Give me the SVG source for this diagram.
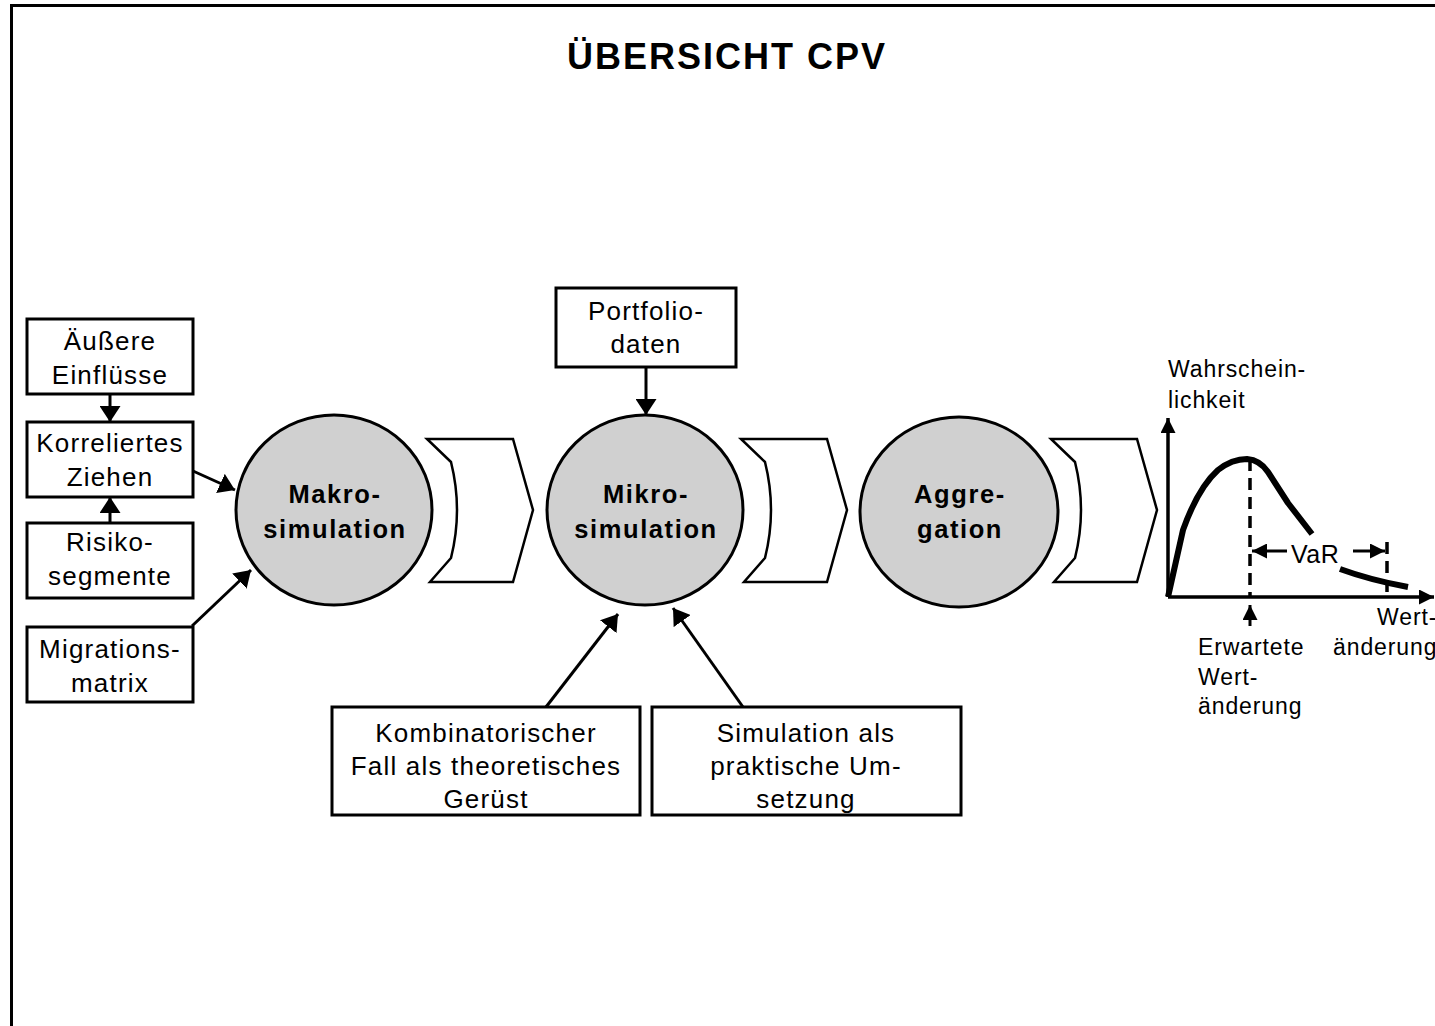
<svg xmlns="http://www.w3.org/2000/svg" width="1435" height="1026" viewBox="0 0 1435 1026">
<style>
.box{fill:#fff;stroke:#000;stroke-width:3}
.circ{fill:#d0d0d0;stroke:#000;stroke-width:3}
.chev{fill:#fff;stroke:#000;stroke-width:2.5;stroke-linejoin:miter}
.t{font-family:"Liberation Sans",Arial,sans-serif;font-size:26px;letter-spacing:1.2px;fill:#000;text-anchor:middle}
.b{font-family:"Liberation Sans",Arial,sans-serif;font-size:25.5px;font-weight:bold;letter-spacing:1.6px;fill:#000;text-anchor:middle}
.s{font-family:"Liberation Sans",Arial,sans-serif;font-size:23px;letter-spacing:0.9px;fill:#000}
.v{font-family:"Liberation Sans",Arial,sans-serif;font-size:25px;letter-spacing:0.5px;fill:#000}
.title{font-family:"Liberation Sans",Arial,sans-serif;font-size:36px;font-weight:bold;letter-spacing:2px;fill:#000;text-anchor:middle}
.con{stroke:#000;stroke-width:3;fill:none}
.ax{stroke:#000;stroke-width:3.5;fill:none}
.dash{stroke:#000;stroke-width:3.5;stroke-dasharray:12 7;fill:none}
.curve{stroke:#000;stroke-width:6;fill:none;stroke-linejoin:round}
</style>
<defs>
<marker id="ah" markerUnits="userSpaceOnUse" markerWidth="16" markerHeight="21" refX="16" refY="10.5" orient="auto">
<path d="M0,0 L16,10.5 L0,21 Z" fill="#000"/>
</marker>
<marker id="ahs" markerUnits="userSpaceOnUse" markerWidth="15" markerHeight="15" refX="15" refY="7.5" orient="auto">
<path d="M0,0 L15,7.5 L0,15 Z" fill="#000"/>
</marker>
</defs>
<rect x="0" y="0" width="1435" height="1026" fill="#fff"/>
<path d="M11.5,1026 L11.5,5.5 L1435,5.5" stroke="#000" stroke-width="3" fill="none"/>
<text class="title" x="727" y="69">ÜBERSICHT CPV</text>

<g id="chevrons">
<path class="chev" d="M427,439 L513,439 L533,510 L513,582 L430,582 L451,558 Q463,510 451,462 Z"/>
<path class="chev" d="M741,439 L827,439 L847,510 L827,582 L744,582 L765,558 Q777,510 765,462 Z"/>
<path class="chev" d="M1051,439 L1137,439 L1157,510 L1137,582 L1054,582 L1075,558 Q1087,510 1075,462 Z"/>
</g>

<g id="aeussere">
<rect class="box" x="27" y="319" width="166" height="75"/>
<text class="t" x="110" y="350">Äußere</text>
<text class="t" x="110" y="384">Einflüsse</text>
</g>
<g id="korreliertes">
<rect class="box" x="27" y="422" width="166" height="75"/>
<text class="t" x="110" y="452">Korreliertes</text>
<text class="t" x="110" y="486">Ziehen</text>
</g>
<g id="risiko">
<rect class="box" x="27" y="523" width="166" height="75"/>
<text class="t" x="110" y="551">Risiko-</text>
<text class="t" x="110" y="585">segmente</text>
</g>
<g id="migration">
<rect class="box" x="27" y="627" width="166" height="75"/>
<text class="t" x="110" y="658">Migrations-</text>
<text class="t" x="110" y="692">matrix</text>
</g>
<g id="portfolio">
<rect class="box" x="556" y="288" width="180" height="79"/>
<text class="t" x="646" y="320">Portfolio-</text>
<text class="t" x="646" y="353">daten</text>
</g>
<g id="kombinatorisch">
<rect class="box" x="332" y="707" width="308" height="108"/>
<text class="t" x="486" y="742">Kombinatorischer</text>
<text class="t" x="486" y="775">Fall als theoretisches</text>
<text class="t" x="486" y="808">Gerüst</text>
</g>
<g id="simulation">
<rect class="box" x="652" y="707" width="309" height="108"/>
<text class="t" x="806" y="742">Simulation als</text>
<text class="t" x="806" y="775">praktische Um-</text>
<text class="t" x="806" y="808">setzung</text>
</g>

<g id="makro">
<ellipse class="circ" cx="334" cy="510" rx="98" ry="95"/>
<text class="b" x="335" y="503">Makro-</text>
<text class="b" x="335" y="538">simulation</text>
</g>
<g id="mikro">
<ellipse class="circ" cx="645" cy="510" rx="98" ry="95"/>
<text class="b" x="646" y="503">Mikro-</text>
<text class="b" x="646" y="538">simulation</text>
</g>
<g id="aggregation">
<ellipse class="circ" cx="959" cy="512" rx="99" ry="95"/>
<text class="b" x="960" y="503">Aggre-</text>
<text class="b" x="960" y="538">gation</text>
</g>

<g id="connectors">
<line class="con" x1="110" y1="394" x2="110" y2="422" marker-end="url(#ah)"/>
<line class="con" x1="110" y1="523" x2="110" y2="497" marker-end="url(#ah)"/>
<line class="con" x1="193" y1="471" x2="235" y2="490" marker-end="url(#ah)"/>
<line class="con" x1="192" y1="626" x2="251" y2="570" marker-end="url(#ah)"/>
<line class="con" x1="646" y1="367" x2="646" y2="415" marker-end="url(#ah)"/>
<line class="con" x1="546" y1="707" x2="618" y2="614" marker-end="url(#ah)"/>
<line class="con" x1="743" y1="707" x2="673" y2="608" marker-end="url(#ah)"/>
</g>

<g id="chart">
<line class="ax" x1="1168" y1="597" x2="1168" y2="418" marker-end="url(#ahs)"/>
<line class="ax" x1="1168" y1="597" x2="1434" y2="597" marker-end="url(#ahs)"/>
<line class="dash" x1="1250" y1="459" x2="1250" y2="597"/>
<line class="dash" x1="1387" y1="542" x2="1387" y2="597"/>
<path class="curve" d="M1168,597 L1183,530 Q1198,488 1218,470 Q1232,459 1247,459 Q1260,460 1268,472 L1288,503 L1312,534"/>
<path class="curve" d="M1340,569 Q1370,580 1408,587"/>
<line class="con" x1="1287" y1="551" x2="1252" y2="551" marker-end="url(#ahs)"/>
<line class="con" x1="1353" y1="551" x2="1385" y2="551" marker-end="url(#ahs)"/>
<line class="con" x1="1250" y1="626" x2="1250" y2="605" marker-end="url(#ahs)"/>
<text class="v" x="1291" y="563">VaR</text>
<text class="s" x="1168" y="377">Wahrschein-</text>
<text class="s" x="1168" y="408">lichkeit</text>
<text class="s" x="1198" y="655">Erwartete</text>
<text class="s" x="1198" y="685">Wert-</text>
<text class="s" x="1198" y="714">änderung</text>
<text class="s" x="1377" y="625">Wert-</text>
<text class="s" x="1333" y="655">änderung</text>
</g>
</svg>
